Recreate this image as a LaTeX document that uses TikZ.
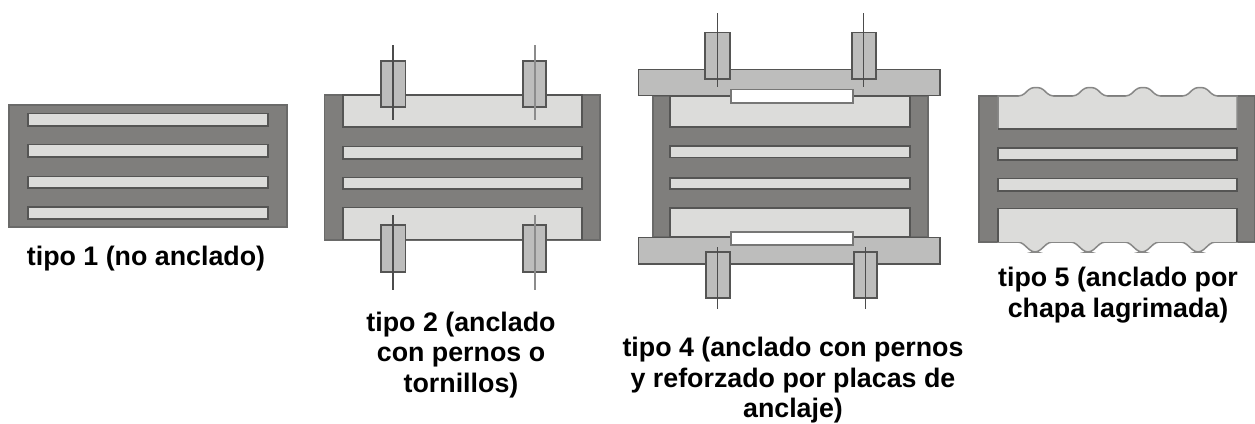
\documentclass[tikz,border=0pt]{standalone}
\usepackage{fontspec}
\setmainfont{Liberation Sans}
\definecolor{rubber}{HTML}{7F7E7C}
\definecolor{rubberedge}{HTML}{6A6A69}
\definecolor{steel}{HTML}{DCDCDA}
\definecolor{plate}{HTML}{BDBDBC}
\definecolor{edge}{HTML}{555554}
\tikzset{
  x=1pt,y=-1pt,
  body/.style={fill=rubber,draw=rubberedge,line width=1.5pt},
  sheet/.style={fill=steel,draw=edge,line width=1.5pt},
  softsheet/.style={fill=steel,draw=edge!70,line width=1.5pt},
  plateshape/.style={fill=plate,draw=edge,line width=1.4pt},
  slot/.style={fill=white,draw=edge!80,line width=1.4pt},
  sleeve/.style={fill=plate,draw=edge,line width=1.3pt},
  rod/.style={draw=black!70,line width=1.2pt},
  paleline/.style={draw=black!45,line width=1.6pt},
  caption/.style={font=\fontsize{26.8}{30.5}\selectfont\bfseries,align=center,text=black,inner sep=0pt}
}
\begin{document}
\begin{tikzpicture}
\useasboundingbox (0,0) rectangle (1255,423);
% ---------- tipo 1
\draw[body] (9,105) rectangle (287,227);
\draw[sheet] (28,113.5) rectangle (268,126);
\draw[sheet] (28,144.5) rectangle (268,157);
\draw[sheet] (28,176.5) rectangle (268,188);
\draw[sheet] (28,207) rectangle (268,219);
\node[caption] (t1) at (146,259) {tipo 1 (no anclado)};
% ---------- tipo 2
\draw[body] (324.5,95) rectangle (600,240);
\draw[sheet] (343,95) rectangle (582,127);
\draw[sheet] (343,146.5) rectangle (582,159);
\draw[sheet] (343,177.5) rectangle (582,189);
\draw[sheet] (343,207.5) rectangle (582,239.5);
\draw[sleeve] (381,61) rectangle (405.5,107);
\draw[rod] (393,45) -- (393,120);
\draw[sleeve] (523,61) rectangle (546,107);
\draw[paleline] (535,45) -- (535,120);
\draw[sleeve] (381,225) rectangle (405.5,272);
\draw[rod] (393,215) -- (393,290);
\draw[sleeve] (523,225) rectangle (546,272);
\draw[paleline] (535,215) -- (535,290);
\node[caption] (t2) at (461,355) {tipo 2 (anclado\\con pernos o\\tornillos)};
% ---------- tipo 4
\draw[body] (653,96) rectangle (928,237);
\draw[sheet] (670,96) rectangle (910,127);
\draw[sheet] (670,146) rectangle (910,157.5);
\draw[sheet] (670,178) rectangle (910,189);
\draw[sheet] (670,208) rectangle (910,237);
\draw[plateshape] (638.5,69.5) rectangle (940,95.5);
\draw[plateshape] (638.5,237.5) rectangle (940,264);
\draw[slot] (731,89.5) rectangle (853,103);
\draw[slot] (731,232) rectangle (853,245);
\draw[sleeve] (705,32.5) rectangle (730,79);
\draw[rod] (717.5,13) -- (717.5,87);
\draw[sleeve] (852,32.5) rectangle (876,79);
\draw[rod] (863.5,13) -- (863.5,87);
\draw[sleeve] (706,252) rectangle (730,298);
\draw[rod] (717.5,247) -- (717.5,309);
\draw[sleeve] (854,252) rectangle (877,298);
\draw[rod] (865.5,247) -- (865.5,309);
\node[caption] (t4) at (793,380.5) {tipo 4 (anclado con pernos\\y reforzado por placas de\\anclaje)};
% ---------- tipo 5
\draw[body] (979,96) rectangle (1255,242);
\draw[softsheet] (998,129) -- (998,96) [rounded corners=3.5pt]
  -- (1022,96) -- (1031,87.5) -- (1041,87.5) -- (1050,96)
  -- (1076,96) -- (1085,87.5) -- (1095,87.5) -- (1104,96)
  -- (1129,96) -- (1138,87.5) -- (1148,87.5) -- (1157,96)
  -- (1186,96) -- (1195,87.5) -- (1205,87.5) -- (1214,96)
  [sharp corners] -- (1237,96) -- (1237,129) -- cycle;
\draw[sheet] (998,129) -- (1237,129);
\draw[sheet] (998,148) rectangle (1237,160);
\draw[sheet] (998,178.5) rectangle (1237,191);
\draw[softsheet] (998,208.5) -- (1237,208.5) -- (1237,242) [rounded corners=3.5pt]
  -- (1212,242) -- (1201,252) -- (1195,252) -- (1184,242)
  -- (1156,242) -- (1145,252) -- (1139,252) -- (1128,242)
  -- (1102,242) -- (1091,252) -- (1085,252) -- (1074,242)
  -- (1049,242) -- (1038,252) -- (1032,252) -- (1021,242)
  [sharp corners] -- (998,242) -- cycle;
\draw[sheet] (998,242) -- (998,208.5) -- (1237,208.5) -- (1237,242);
\node[caption] (t5) at (1118,295) {tipo 5 (anclado por\\chapa lagrimada)};
\end{tikzpicture}
\end{document}
